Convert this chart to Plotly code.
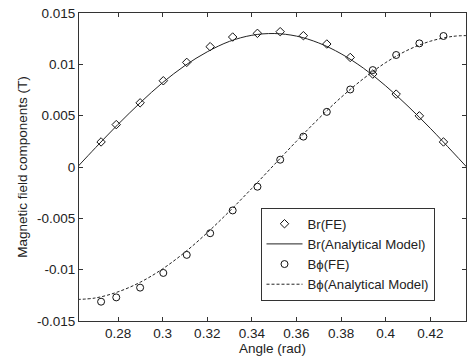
import plotly.graph_objects as go

# FE data
br_fe_x = [0.2724, 0.2792, 0.2899, 0.3003, 0.3108, 0.3213, 0.3314, 0.3425, 0.3527,
           0.3631, 0.3736, 0.3841, 0.3942, 0.4047, 0.4151, 0.4259]
br_fe_y = [0.00244, 0.00413, 0.00625, 0.0084, 0.01019, 0.01172, 0.01266, 0.01302, 0.01318,
           0.01279, 0.01198, 0.01067, 0.00905, 0.0071, 0.00498, 0.00244]

bphi_fe_x = [0.2724, 0.2792, 0.2899, 0.3003, 0.3108, 0.3213, 0.3314, 0.3425, 0.3527,
             0.3631, 0.3736, 0.3841, 0.3942, 0.4047, 0.4151, 0.4259]
bphi_fe_y = [-0.01312, -0.0127, -0.01175, -0.01032, -0.00856, -0.00645, -0.00423, -0.00192, 0.00071,
             0.00296, 0.00537, 0.00755, 0.00944, 0.01091, 0.01204, 0.01276]

# Analytical model curves
model_x = [0.2618, 0.27, 0.28, 0.29, 0.30, 0.31, 0.32, 0.33, 0.34, 0.35,
           0.36, 0.37, 0.38, 0.39, 0.40, 0.41, 0.42, 0.43, 0.4363]
br_model_y = [0.0, 0.0019, 0.00415, 0.00627, 0.00822, 0.00988, 0.01122, 0.01224, 0.01283, 0.01300,
              0.01275, 0.01208, 0.01103, 0.00963, 0.0079, 0.00592, 0.00377, 0.00147, 0.0]
bphi_model_y = [-0.0129, -0.01275, -0.01216, -0.01122, -0.00992, -0.0083, -0.0064, -0.0043, -0.00208, 0.00022,
                0.00251, 0.00472, 0.00678, 0.0086, 0.01017, 0.0114, 0.01225, 0.01272, 0.0128]

x_ticks = [0.28, 0.30, 0.32, 0.34, 0.36, 0.38, 0.40, 0.42]
x_ticktext = ["0.28", "0.3", "0.32", "0.34", "0.36", "0.38", "0.4", "0.42"]
y_ticks = [-0.015, -0.01, -0.005, 0, 0.005, 0.01, 0.015]
y_ticktext = ["-0.015", "-0.01", "-0.005", "0", "0.005", "0.01", "0.015"]

FS = 13.5

fig = go.Figure()
fig.add_trace(go.Scatter(x=br_fe_x, y=br_fe_y, mode="markers", name="Br(FE)",
                         marker=dict(symbol="diamond-open", size=6.5, color="#111",
                                     line=dict(width=1, color="#111"))))
fig.add_trace(go.Scatter(x=model_x, y=br_model_y, mode="lines", name="Br(Analytical Model)",
                         line=dict(color="#222", width=1, shape="spline")))
fig.add_trace(go.Scatter(x=bphi_fe_x, y=bphi_fe_y, mode="markers", name="Bϕ(FE)",
                         marker=dict(symbol="circle-open", size=7, color="#111",
                                     line=dict(width=1, color="#111"))))
fig.add_trace(go.Scatter(x=model_x, y=bphi_model_y, mode="lines", name="Bϕ(Analytical Model)",
                         line=dict(color="#222", width=1, dash="3px,2px", shape="spline")))

axis_common = dict(showline=True, linecolor="#333", linewidth=1, mirror="ticks",
                   ticks="inside", ticklen=4, tickcolor="#333", showgrid=False,
                   zeroline=False, tickfont=dict(size=FS, color="#222"))

fig.update_layout(
    width=469, height=362,
    margin=dict(l=79, r=3, t=13, b=41),
    paper_bgcolor="white", plot_bgcolor="white",
    font=dict(family="Liberation Sans, Arial, sans-serif", size=FS, color="#222"),
    xaxis=dict(range=[0.2625, 0.436], tickvals=x_ticks, ticktext=x_ticktext,
               title=dict(text="Angle (rad)", font=dict(size=FS), standoff=2), **axis_common),
    yaxis=dict(range=[-0.015, 0.015], tickvals=y_ticks, ticktext=y_ticktext,
               title=dict(text="Magnetic field components (T)", font=dict(size=FS), standoff=6),
               **axis_common),
    legend=dict(x=0.469, y=0.368, xanchor="left", yanchor="top",
                bordercolor="#333", borderwidth=1, bgcolor="white",
                font=dict(size=13.2), tracegroupgap=0, itemwidth=36),
    showlegend=True,
)

fig.write_html("out.html")
